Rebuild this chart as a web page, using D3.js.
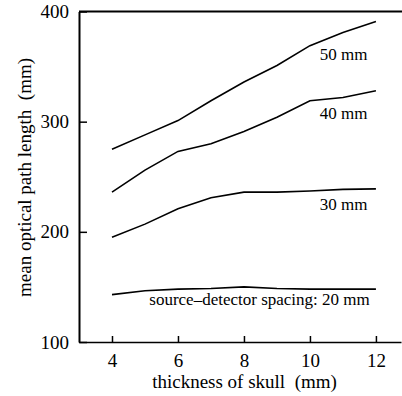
<!DOCTYPE html>
<html>
<head>
<meta charset="utf-8">
<script src="https://cdn.jsdelivr.net/npm/d3@7"></script>
<style>
  body { margin: 0; background: #fff; }
  text { font-family: "Liberation Serif", "DejaVu Serif", serif; fill: #000; }
</style>
</head>
<body>
<div id="viz"></div>
<script>
var thickness = [4, 5, 6, 7, 8, 9, 10, 11, 12];
var spacing20 = [143, 146.5, 148, 148.5, 150, 148.5, 148, 148, 148];
var spacing30 = [195, 207, 221, 231, 236, 236, 237, 238.5, 239];
var spacing40 = [236, 256, 273, 280, 291, 304, 319, 322, 328];
var spacing50 = [275, 288, 301, 319, 336, 351, 369, 381, 391];
var seriesNames = ['source\u2013detector spacing: 20 mm', '30 mm', '40 mm', '50 mm'];
var xTicks = [4, 6, 8, 10, 12];
var yTicks = [100, 200, 300, 400];

var w = 402, h = 396;
var m = {left: 79, right: 1, top: 11.5, bottom: 54};

var svg = d3.select('#viz')
            .append('svg')
            .attr('width', w)
            .attr('height', h);

var x = d3.scaleLinear()
          .domain([3, 12.76])
          .range([m.left, w - m.right]);

var y = d3.scaleLinear()
          .domain([100, 400])
          .range([h - m.bottom, m.top]);

// bottom axis, ticks pointing up
var xAxis = svg.append('g')
               .attr('transform', 'translate(0,' + y(100) + ')')
               .call(d3.axisBottom(x).tickValues(xTicks).tickSizeInner(-6).tickSizeOuter(0).tickPadding(12));
xAxis.select('.domain').attr('stroke-width', 1.5);
xAxis.selectAll('.tick line').attr('stroke-width', 1.5);
xAxis.selectAll('text').style('font-size', '19px');

// left axis, ticks pointing right
var yAxis = svg.append('g')
               .attr('transform', 'translate(' + x(3) + ',0)')
               .call(d3.axisLeft(y).tickValues(yTicks).tickSizeInner(-8).tickSizeOuter(0).tickPadding(10));
yAxis.select('.domain').attr('stroke-width', 2);
yAxis.selectAll('.tick line').attr('stroke-width', 1.5);
yAxis.selectAll('text').style('font-size', '19px');

// top frame line
svg.append('line')
   .attr('x1', x(3)).attr('x2', w)
   .attr('y1', y(400)).attr('y2', y(400))
   .attr('stroke', '#000')
   .attr('stroke-width', 2);

var line = d3.line()
             .x((d, i) => x(thickness[i]))
             .y(d => y(d));

var series = [spacing20, spacing30, spacing40, spacing50];
svg.selectAll('.curve')
   .data(series)
   .enter()
   .append('path')
   .attr('class', 'curve')
   .attr('d', line)
   .attr('fill', 'none')
   .attr('stroke', '#000')
   .attr('stroke-width', 1.6);

// curve labels
var labelPos = [[5.13, 134], [10.3, 220], [10.3, 302.5], [10.3, 356]];
svg.selectAll('.lab')
   .data(seriesNames)
   .enter()
   .append('text')
   .attr('class', 'lab')
   .attr('x', (d, i) => x(labelPos[i][0]))
   .attr('y', (d, i) => y(labelPos[i][1]))
   .style('font-size', '17px')
   .text(d => d);

svg.append('text')
   .attr('x', 244.5)
   .attr('y', 388)
   .attr('text-anchor', 'middle')
   .style('font-size', '19px')
   .text('thickness of skull\u00a0\u00a0(mm)');

svg.append('text')
   .attr('transform', 'translate(31,177.5) rotate(-90)')
   .attr('text-anchor', 'middle')
   .style('font-size', '19px')
   .text('mean optical path length\u00a0\u00a0(mm)');
</script>
</body>
</html>
